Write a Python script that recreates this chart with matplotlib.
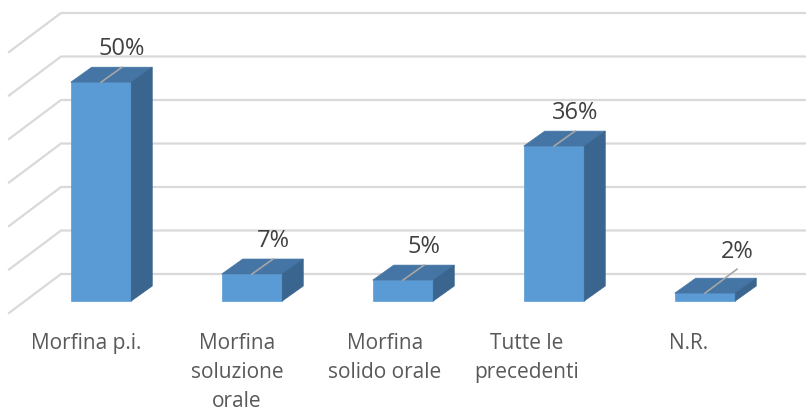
#!/usr/bin/env python3
# -*- coding: utf-8 -*-
import matplotlib

matplotlib.use('Agg')
import matplotlib.pyplot as plt

# data
categories = ['Morfina p.i.', 'Morfina\nsoluzione\norale', 'Morfina\nsolido orale',
              'Tutte le\nprecedenti', 'N.R.']
values = [50.3, 6.2, 4.8, 35.6, 1.8]
value_labels = ['50%', '7%', '5%', '36%', '2%']
grid_levels = [0, 10, 20, 30, 40, 50, 60]

# pixel layout of the fake 3d box
W, H = 806, 412
STEP_PX = 151.0
Y_PX = 4.35
FIRST_PX = 101.0
BASE_PX = 301.0

BAR_W = 60.5 / STEP_PX
DEPTH_X = 21 / STEP_PX
DEPTH_Y = 15 / Y_PX
WALL_Y0 = (BASE_PX - 274) / Y_PX
WALL_X0 = (61 - FIRST_PX) / STEP_PX
WALL_X1 = (805 - FIRST_PX) / STEP_PX
SIDE_X = 52 / STEP_PX
SIDE_Y = 39 / Y_PX

FACE = '#5B9BD5'
TOP = '#4475A5'
SIDE = '#39658F'
GRID = '#D9D9D9'
TEXT = '#404040'
CAT_TEXT = '#595959'
LEADER = '#A6A6A6'

# category labels sit left of their bars, not by the same amount
LABEL_SHIFT_PX = [-15, -15, -18, -27, -16]
LABEL_TOP_PX = 333

plt.rcParams['font.family'] = ['Open Sans', 'DejaVu Sans']

fig = plt.figure(figsize=(W / 100, H / 100), dpi=100, facecolor='white')
ax = fig.add_axes([0, 0, 1, 1])
ax.set_xlim(-FIRST_PX / STEP_PX, (W - FIRST_PX) / STEP_PX)
ax.set_ylim((BASE_PX - H) / Y_PX, BASE_PX / Y_PX)
ax.axis('off')

# back wall and side wall grid
for g in grid_levels:
    y = g + WALL_Y0
    ax.plot([WALL_X0 - SIDE_X, WALL_X0, WALL_X1], [y - SIDE_Y, y, y],
            color=GRID, lw=1.6, zorder=1, solid_joinstyle='miter')

for i, v in enumerate(values):
    x0 = i - BAR_W / 2
    x1 = i + BAR_W / 2
    ax.fill([x0, x1, x1, x0], [0, 0, v, v], color=FACE, lw=0.5, zorder=3)
    ax.fill([x0, x1, x1 + DEPTH_X, x0 + DEPTH_X], [v, v, v + DEPTH_Y, v + DEPTH_Y],
            color=TOP, lw=0.5, zorder=3)
    ax.fill([x1, x1 + DEPTH_X, x1 + DEPTH_X, x1], [0, DEPTH_Y, v + DEPTH_Y, v],
            color=SIDE, lw=0.5, zorder=3)

    # the last label was pulled further from its bar
    if i == 4:
        leader = (32, 24)
        text_pos = (32, 41)
    else:
        leader = (21, 15)
        text_pos = (21, 33)
    ax.plot([i, i + leader[0] / STEP_PX], [v, v + leader[1] / Y_PX],
            color=LEADER, lw=1.2, zorder=4)
    ax.annotate(value_labels[i], xy=(i, v), xytext=text_pos, textcoords='offset pixels',
                ha='center', va='center', fontsize=17, color=TEXT, zorder=5)

    ax.text(i + LABEL_SHIFT_PX[i] / STEP_PX, (BASE_PX - LABEL_TOP_PX) / Y_PX, categories[i],
            ha='center', va='top', fontsize=15, color=CAT_TEXT, linespacing=1.5, zorder=5)

plt.savefig('out.png', dpi=100, facecolor='white')
plt.close()
